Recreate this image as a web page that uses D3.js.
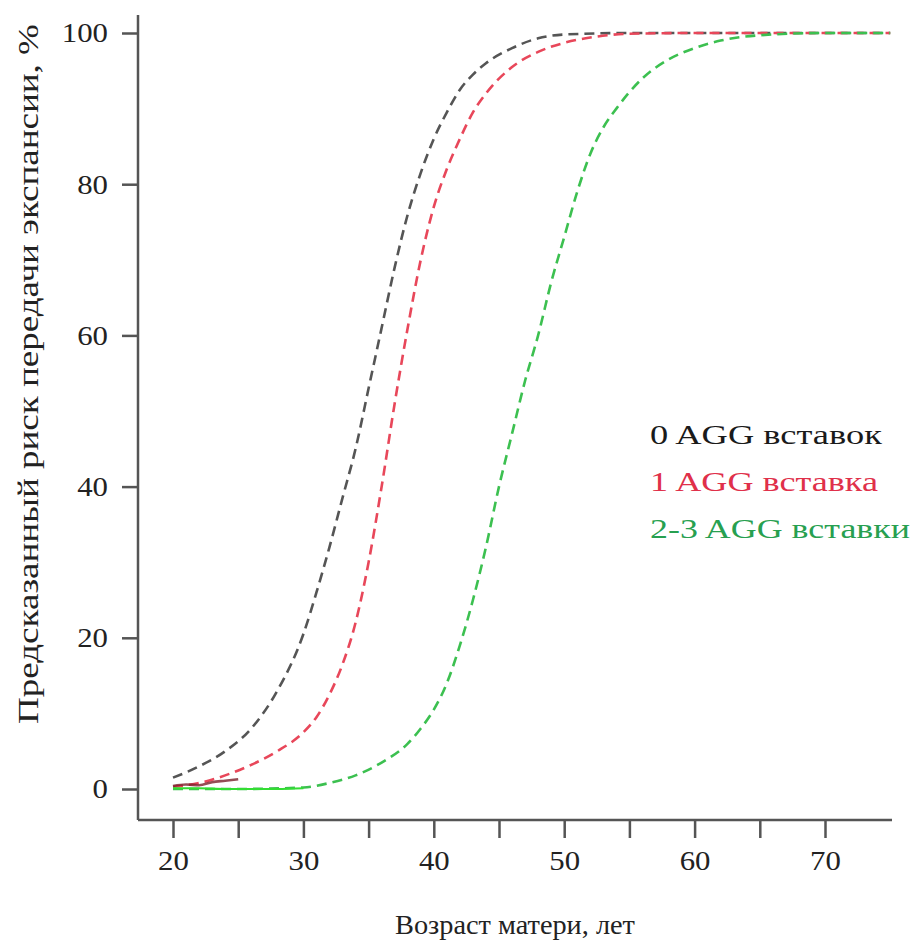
<!DOCTYPE html>
<html><head><meta charset="utf-8">
<script src="https://cdn.jsdelivr.net/npm/d3@7/dist/d3.min.js"></script>
<style>body{margin:0;background:#fff}svg{display:block}</style>
</head><body><svg id="c" width="918" height="951"></svg>
<script>
const FONT = '"Liberation Serif"';
const xTicks = [20,25,30,35,40,45,50,55,60,65,70];
const xLabels = [20,30,40,50,60,70];
const yTicks = [0,20,40,60,80,100];
const seriesNames = ["0 AGG вставок","1 AGG вставка","2-3 AGG вставки"];
const seriesColors = ["#555555","#e8475a","#3cc050"];
const legendColors = ["#1a1a1a","#e0304a","#27a050"];
const lowColors = ["#5a1a1a","#7a1f2a","#33dd33"];

const age0 = [20,22,24,26,28,30,31,32,33,34,35,36,37,38,39,40,41,42,43,44,46,48,50,55,60,65,70,75];
const risk0 = [1.5,3,5,8,13,20.5,26,32,38.5,45,53,61,69,76,81.5,86,89.5,92.5,94.5,96,98,99.3,99.8,100,100,100,100,100];

const age1 = [20,22,24,26,28,30,31,32,33,34,35,36,37,38,39,40,41,42,43,44,46,48,50,52,55,60,65,70,75];
const risk1 = [0.3,0.8,1.8,3.2,5,7.5,9.5,12.5,16.5,22,30,40,51,61,70,77,82,86,89.5,92,95.5,97.5,98.7,99.4,99.9,100,100,100,100];

const age2 = [20,25,30,32,34,36,38,39,40,41,42,43,44,45,46,47,48,49,50,51,52,53,54,56,58,60,62,65,70,75];
const risk2 = [0,0,0.2,0.8,1.8,3.5,6,8,10.5,14,19,25,32,40,47,54,60,67,73,79,84,87.5,90,94,96.5,98,99,99.7,100,100];

// solid noisy segments near zero at the start of the curves
const lowAge0 = [20,21,22,23,24,25];
const lowRisk0 = [0.4,0.6,0.5,0.9,1.1,1.3];
const lowAge2 = [20,22,24,26,28,30];
const lowRisk2 = [0.1,0.1,0,0,0,0.1];

const svg = d3.select("#c");
const x = d3.scaleLinear().domain([20,70]).range([173,825]);
const y = d3.scaleLinear().domain([0,100]).range([789,33]);
const axisColor = "#555";
const SX = 1.1; // horizontal stretch of glyphs in the reference

const gy = svg.append("g").attr("transform","translate(138,0)")
  .call(d3.axisLeft(y).tickValues(yTicks).tickSize(16).tickPadding(14));
gy.select(".domain").attr("d","M0,15V820");
const gx = svg.append("g").attr("transform","translate(0,820)")
  .call(d3.axisBottom(x).tickValues(xTicks).tickSize(18).tickPadding(12)
    .tickFormat(d => xLabels.includes(d) ? d : ""));
gx.select(".domain").attr("d","M138,0H892");
[gx,gy].forEach(g=>{
  g.attr("font-family",null).attr("font-size",null);
  g.selectAll("path,line").attr("stroke",axisColor).attr("stroke-width",2.5);
  g.selectAll("text").style("font-family",FONT).style("font-size","28px").attr("fill","#222");
});
gy.selectAll("text").attr("x",-30/SX).attr("transform",`scale(${SX},1)`);
gx.selectAll("text").attr("transform",`scale(${SX},1)`);

const line = d3.line().x(d=>x(d[0])).y(d=>y(d[1])).curve(d3.curveMonotoneX);
const data = [d3.zip(age0,risk0), d3.zip(age1,risk1), d3.zip(age2,risk2)];
data.forEach((d,i)=>{
  svg.append("path").datum(d).attr("d",line).attr("fill","none")
    .attr("stroke",seriesColors[i]).attr("stroke-width",2.6)
    .attr("stroke-dasharray","10,6");
});
svg.append("path").datum(d3.zip(lowAge0,lowRisk0)).attr("d",line).attr("fill","none")
  .attr("stroke",lowColors[1]).attr("stroke-width",2.6).attr("opacity",0.8);
svg.append("path").datum(d3.zip(lowAge2,lowRisk2)).attr("d",line).attr("fill","none")
  .attr("stroke",lowColors[2]).attr("stroke-width",2.2);

function stretched(g0, txt, fs, targetW, color, anchor) {
  const t = g0.append("text").style("font-family",FONT).style("font-size",fs+"px")
    .attr("fill",color).attr("text-anchor",anchor||"start").text(txt);
  const w = t.node().getComputedTextLength();
  t.attr("transform",`scale(${targetW/w},1)`);
  return t;
}
const legendW = [232, 228, 260];
seriesNames.forEach((n,i)=>{
  stretched(svg.append("g").attr("transform",`translate(650,${444+i*47})`),
    n, 28, legendW[i], legendColors[i]);
});

stretched(svg.append("g").attr("transform","translate(515,934)"),
  "Возраст матери, лет", 27, 240, "#222", "middle");

stretched(svg.append("g").attr("transform","translate(38,374) rotate(-90)"),
  "Предсказанный риск передачи экспансии, %", 30, 700, "#222", "middle");
</script></body></html>
